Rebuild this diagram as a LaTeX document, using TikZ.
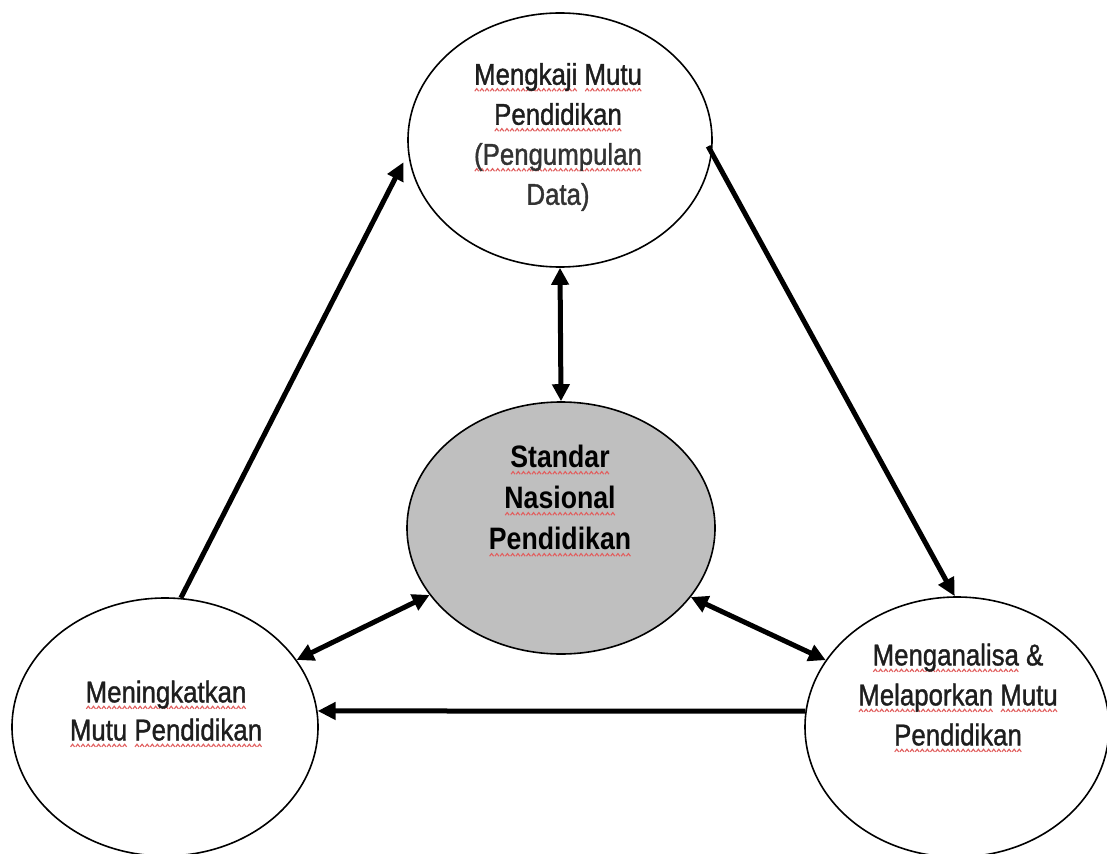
\documentclass[tikz,border=0pt]{standalone}
\usepackage{fontspec}
\setmainfont{Liberation Sans}[FakeStretch=0.86]
\newfontfamily\regfont{Liberation Sans}[FakeStretch=0.86,FakeBold=1.2]
\usetikzlibrary{shapes.geometric,arrows.meta}
\definecolor{wavered}{RGB}{225,95,95}
\definecolor{ellgray}{RGB}{191,191,191}
\definecolor{txt}{RGB}{30,30,30}
\newsavebox\wavebox
\newcommand\sq[1]{\setbox0\hbox{#1}\leavevmode\rlap{\lower7pt\hbox to\wd0{\xleaders\copy\wavebox\hfill}}\box0\relax}

\begin{document}
\sbox\wavebox{\begin{pgfpicture}\pgfpathmoveto{\pgfpoint{0pt}{0pt}}\pgfpathlineto{\pgfpoint{2pt}{2.6pt}}\pgfpathlineto{\pgfpoint{4pt}{0pt}}\pgfsetlinewidth{1.1pt}\pgfsetstrokecolor{wavered}\pgfusepath{stroke}\end{pgfpicture}}%
\begin{tikzpicture}[x=1pt,y=-1pt,
  ell/.style={draw=black, line width=1.6pt, ellipse, inner sep=0pt, fill=white},
  lbl/.style={align=center, font=\regfont\fontsize{30}{40}\selectfont, text=txt, inner sep=0pt},
  conn/.style={line width=5pt, -{Triangle[length=18pt,width=17pt]}},
  dconn/.style={line width=5pt, {Triangle[length=17pt,width=17pt]}-{Triangle[length=17pt,width=17pt]}}]
\fill[white] (0,0) rectangle (1107,853);
\useasboundingbox (0,0) rectangle (1107,853);

\node[ell, minimum width=304pt, minimum height=254pt] (T) at (560,140) {};
\node[ell, fill=ellgray, minimum width=308pt, minimum height=252pt] (G) at (561,528) {};
\node[ell, minimum width=306pt, minimum height=258pt] (L) at (165,727) {};
\node[ell, minimum width=304pt, minimum height=260pt] (R) at (957,727) {};

\node[lbl] (tT) at (558,137) {\sq{Mengkaji} \sq{Mutu}\\ \sq{Pendidikan}\\ {\color{black!80}\sq{(Pengumpulan}}\\ {\color{black!80}Data)}};
\node[lbl, font=\rmfamily\bfseries\fontsize{31}{41}\selectfont, text=black] (tG) at (560,501) {\sq{Standar}\\ \sq{Nasional}\\ \sq{Pendidikan}};
\node[lbl, font=\regfont\fontsize{30}{38}\selectfont] (tL) at (166,714) {\sq{Meningkatkan}\\ \sq{Mutu} \sq{Pendidikan}};
\node[lbl] (tR) at (958,698) {\sq{Menganalisa} \&\\ \sq{Melaporkan} \sq{Mutu}\\ \sq{Pendidikan}};

\draw[conn, shorten >=10pt] (L.83) -- (T.185);
\draw[conn, shorten <=-8pt] (T.-5) -- (R.91);
\draw[conn] (R.174) -- (L.6);
\draw[dconn] (T.south) -- (G.north);
\draw[dconn] (L.27) -- (G.207);
\draw[dconn] (G.-28) -- (R.153);
\end{tikzpicture}
\end{document}
